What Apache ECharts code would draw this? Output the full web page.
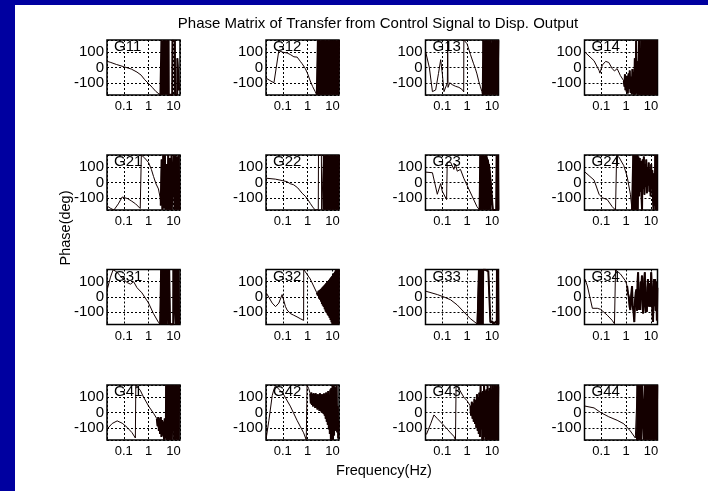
<!DOCTYPE html>
<html><head><meta charset="utf-8">
<script src="https://cdn.jsdelivr.net/npm/echarts@6/dist/echarts.min.js"></script>
<style>html,body{margin:0;padding:0;background:#fff;}#c{width:708px;height:491px;}</style>
</head><body><div id="c"></div><script>
// ---- text ----
const MAIN_TITLE = 'Phase Matrix of Transfer from Control Signal to Disp. Output';
const X_NAME = 'Frequency(Hz)';
const Y_NAME = 'Phase(deg)';
const NAMES = ['G11','G12','G13','G14','G21','G22','G23','G24','G31','G32','G33','G34','G41','G42','G43','G44'];
const X_TICKS = [0.1, 1, 10];
const Y_TICKS = [100, 0, -100];

// ---- data: [frequency Hz, phase deg] ----
const G11 = [[0.0215,40],[0.03,33],[0.05,20],[0.1,5],[0.2,-10],[0.34,-30],[0.5,-50],[0.7,-80],[1,-105],[1.4,-130],[2,-158],[2.6,-172],[3.0,-180],
 [3.2,-178],[3.3,178],[3.6,-178],[3.9,176],[4.3,-178],[4.7,178],[5.1,-176],[5.6,178],[6.1,-178],[6.4,176],[6.5,-178],[9.0,-178],[9.2,176],[11.5,172],[11.7,-178],[14.3,-176],[14.5,60],[16.3,-100],[17,-150]];
const G12 = [[0.0215,-70],[0.03,-85],[0.044,-100],[0.069,110],[0.08,105],[0.1,100],[0.12,92],[0.15,95],[0.2,85],[0.24,80],[0.28,70],[0.32,63],[0.38,68],[0.44,56],[0.51,40],[0.6,25],[0.81,-7],[1,-40],[1.28,-88],[1.6,-125],[2.03,-158],[2.36,-180],
 [2.6,178],[2.85,-178],[3.1,178],[3.4,-178],[3.7,178],[3.75,-178],[4.2,-178],[4.25,178],[4.3,-178],[4.7,-178],[4.75,178],[5.1,-178],[5.6,178],[6.1,-178],[6.6,178],[7.2,-178],[7.9,178],[8.6,-178],[9.4,178],[10.2,-178],[11.1,178],[12.1,-178],[13.2,178],[14.4,-178],[15.7,178],[17.1,-178],[18.5,178]];
const G13 = [[0.0215,100],[0.03,0],[0.04,-158],[0.054,-147],[0.07,-40],[0.086,51],[0.1,-40],[0.117,-158],[0.13,-150],[0.16,-100],[0.165,180],[0.17,-130],[0.2,-100],[0.25,-112],[0.29,-100],[0.34,-123],[0.4,-110],[0.47,-130],[0.54,-123],[0.65,-146],[0.73,-160],[0.74,180],[0.86,178],[1,155],[1.36,86],[1.8,28],[2.15,-7],[2.5,-42],[2.93,-88],[3.4,-123],[3.98,-158],[4.3,-180],
 [4.5,178],[4.9,-178],[5.3,178],[5.8,-178],[6.3,-178],[6.35,178],[6.9,-178],[7.5,178],[8.2,-178],[8.9,178],[9.7,-178],[10.8,-178],[10.85,178],[11.8,-178],[12.9,178],[14,-178],[15.3,178],[16.7,-178],[18.2,178]];
const G14 = [[0.022,100],[0.051,44],[0.081,-19],[0.088,-37],[0.11,16],[0.15,40],[0.2,33],[0.275,-7],[0.34,-23],[0.436,-7],[0.59,-53],[0.81,-88],
 [0.86,-125],[0.9,-45],[0.94,-148],[1.0,-65],[1.05,-158],[1.1,-55],[1.17,-170],[1.25,-40],[1.33,-140],[1.4,-20],[1.5,-165],[1.6,-60],[1.7,-175],[1.8,-10],[1.9,-170],[2.0,-30],[2.1,-178],[2.25,60],[2.4,-175],[2.55,175],[2.7,-170],[2.85,40],[3.0,-178],[3.2,-20],[3.35,178],[3.5,-178],[3.7,120],[3.9,-178],[4.1,178],[4.3,-178],[4.5,178],[4.7,-178],[4.95,178],[5.2,-178],[5.45,178],[5.7,-178],[6,178],[6.3,-178],[6.6,178],[6.9,-178],[7.3,178],[7.6,-178],[8,178],[8.4,-178],[8.8,178],[9.2,-178],[9.7,178],[10.2,-178],[10.7,178],[11.2,-178],[11.8,178],[12.4,-178],[13,178],[13.6,-178],[14.3,178],[15,-178],[15.7,178],[16.5,-178],[17.3,178]];
const G21 = [[0.0215,-155],[0.03,-170],[0.04,-180],[0.06,-140],[0.086,-95],[0.1,-97],[0.14,-105],[0.2,-120],[0.3,-140],[0.46,-170],[0.5,-178],[0.51,180],[0.6,175],[0.7,160],[1,130],[1.3,85],[1.58,40],[2,-10],[2.5,-42],[2.93,-100],[3.1,-150],
 [3.35,150],[3.6,-178],[3.9,178],[4.2,-170],[4.55,178],[4.9,-178],[5.3,120],[5.7,-178],[6.2,178],[6.7,-178],[7.2,160],[7.8,-178],[8.4,178],[8.6,-178],[10.3,-178],[10.4,178],[11.1,-178],[12,178],[13,-178],[14,170],[15.2,-178],[16.4,178],[17.5,-178]];
const G22 = [[0.0215,28],[0.05,22],[0.1,12],[0.15,5],[0.2,-8],[0.275,-15],[0.4,-35],[0.6,-70],[0.81,-90],[1.0,-110],[1.3,-138],[1.6,-160],[2.03,-180],
 [2.7,-178],[2.75,178],[3.6,178],[3.7,-178],[4.4,-178],[4.5,178],[4.9,-178],[5.3,178],[5.7,-178],[6.2,178],[6.7,-178],[7.2,178],[7.8,-178],[8.4,178],[9.1,-178],[9.8,178],[10.6,-178],[11.5,178],[12.4,-178],[13.4,178],[14.5,-178],[15.6,178],[16.9,-178],[18.3,178]];
const G23 = [[0.0215,68],[0.04,64],[0.063,-77],[0.086,-7],[0.1,-58],[0.149,-112],[0.158,133],[0.215,133],[0.293,86],[0.34,121],[0.4,74],[0.54,86],[0.736,28],[1,-19],[1.58,-88],[2.5,-158],[3.2,-180],
 [3.4,178],[3.7,-178],[4.0,178],[4.3,-178],[4.6,178],[5.0,-178],[5.4,178],[5.8,-178],[5.9,178],[6.7,140],[6.75,-178],[6.8,150],[7.4,110],[7.5,-178],[7.6,120],[8.6,40],[8.7,-178],[8.8,20],[10,-100],[11,-180],[15,-178],[15.5,178],[16.5,-178],[17.5,178],[18.3,-178]];
const G24 = [[0.022,68],[0.051,16],[0.081,-77],[0.11,-100],[0.174,-112],[0.275,-158],[0.375,-180],[0.41,-178],[0.415,178],[0.51,167],[0.81,110],[1.1,40],[1.49,-77],[1.74,-180],
 [1.9,-178],[1.95,178],[2.05,-178],[2.15,178],[2.3,-178],[2.45,178],[2.6,-178],[2.75,178],[2.95,-178],[3.15,170],[3.35,-90],[3.55,160],[3.75,-60],[4.0,140],[4.2,-100],[4.4,-178],[4.6,150],[4.9,-40],[5.2,170],[5.5,-80],[5.8,120],[6.1,-30],[6.5,150],[6.9,-70],[7.3,100],[7.7,-20],[8.2,130],[8.7,-60],[9.2,90],[9.7,-90],[10.3,120],[10.9,-40],[11.5,80],[12.2,-120],[12.8,-178],[13.5,60],[14.3,-150],[15,178],[15.7,-178],[16.5,178],[17.3,-178]];
const G31 = [[0.0215,50],[0.029,130],[0.037,178],[0.045,170],[0.055,160],[0.07,140],[0.1,114],[0.136,95],[0.185,84],[0.25,100],[0.34,61],[0.54,27],[1,-40],[1.58,-109],[2.5,-166],[2.93,-180],
 [3.1,-178],[3.2,178],[3.45,-178],[3.75,178],[4.05,-178],[4.4,178],[4.75,-178],[5.1,178],[5.15,-178],[5.8,-178],[5.85,178],[6.3,-178],[6.8,178],[7.3,-178],[9.9,-178],[10.0,178],[10.1,-178],[11.7,-178],[11.8,178],[12.7,-178],[13.7,178],[14.8,-178],[16,178],[17,-178]];
const G32 = [[0.0215,27],[0.0375,-40],[0.051,-63],[0.069,-40],[0.094,16],[0.11,16],[0.128,-63],[0.149,-85],[0.2,-108],[0.275,-119],[0.32,-112],[0.375,-130],[0.44,-125],[0.51,-142],[0.59,-136],[0.69,-153],[0.7,180],[0.81,178],[1.28,118],[2.36,27],
 [2.6,10],[2.75,40],[2.9,-10],[3.05,45],[3.2,-18],[3.35,50],[3.5,-30],[3.65,55],[3.8,-45],[3.95,62],[4.1,-55],[4.3,68],[4.5,-65],[4.7,75],[4.9,-80],[5.1,82],[5.35,-95],[5.6,90],[5.85,-105],[6.1,97],[6.4,-115],[6.7,105],[7.0,-125],[7.3,112],[7.65,-135],[8.0,120],[8.4,-150],[8.8,128],[9.2,-165],[9.6,135],[10.0,-178],[10.5,145],[11.0,-178],[11.5,155],[12.0,-178],[12.6,165],[13.2,-178],[13.8,175],[14.4,-178],[15.1,178],[15.8,-178],[16.5,170],[17.3,-178],[18.2,178]];
const G33 = [[0.0215,38],[0.063,16],[0.117,0],[0.215,-18],[0.4,-52],[0.736,-97],[1.36,-142],[2.5,-175],[2.67,-180],
 [2.93,-178],[3.0,178],[3.2,-178],[3.45,178],[3.7,-178],[4.0,178],[4.3,-178],[4.45,178],[5,172],[5.5,178],[6,170],[6.6,176],[7.2,168],[7.9,178],[8.5,165],[8.7,-165],[9.5,-175],[10.5,-160],[11.5,-175],[12.5,-165],[13.7,-175],[15,-160],[15.8,-178],[16,178],[16.8,-178],[17.6,178],[18.4,-178]];
const G34 = [[0.022,117],[0.0275,72],[0.0437,-74],[0.069,-74],[0.094,-81],[0.174,-119],[0.275,-153],[0.34,-175],[0.37,-178],[0.375,178],[0.45,165],[0.59,151],[0.94,106],[1.1,72],
 [1.2,20],[1.28,4],[1.38,-60],[1.49,-85],[1.6,10],[1.74,72],[1.85,-60],[2.0,-100],[2.15,-164],[2.3,-20],[2.45,30],[2.6,50],[2.75,-90],[2.9,100],[3.05,162],[3.2,40],[3.35,-85],[3.5,-20],[3.74,-85],[3.9,100],[4.1,60],[4.37,140],[4.6,-30],[4.85,-108],[5.1,-60],[5.4,120],[5.7,162],[5.94,20],[6.2,-97],[6.5,-40],[6.9,-97],[7.2,60],[7.6,117],[8.1,-20],[8.5,-63],[8.9,90],[9.4,-63],[9.8,30],[10.3,162],[11,60],[11.5,-100],[12.2,-164],[12.8,0],[13.5,117],[14.2,-60],[14.9,117],[15.6,-90],[16.4,100],[17.4,-153],[18.3,60]];
const G41 = [[0.0215,-107],[0.034,-72],[0.054,-55],[0.086,-70],[0.136,-97],[0.215,-132],[0.293,-167],[0.3,-178],[0.305,178],[0.34,175],[0.46,146],[0.63,100],[1,42],[1.58,-5],[2.15,-40],
 [2.3,-90],[2.45,-30],[2.6,-120],[2.75,-40],[2.9,-140],[3.1,-30],[3.3,-160],[3.5,-50],[3.7,-150],[3.95,-60],[4.2,-178],[4.45,-40],[4.7,-170],[5.0,-60],[5.1,178],[5.35,-178],[5.6,178],[5.9,-178],[6.2,178],[6.6,-178],[6.9,178],[7.3,-178],[7.7,178],[8.1,-178],[8.5,178],[8.6,-178],[10.0,-178],[10.1,178],[10.8,-178],[11.5,178],[12.1,-178],[13.6,-178],[13.7,178],[14.5,-178],[15.4,178],[16.3,-178],[17,178]];
const G42 = [[0.0215,-167],[0.0275,-51],[0.0375,112],[0.044,153],[0.051,175],[0.06,165],[0.103,123],[0.2,42],[0.375,-51],[0.69,-133],[0.885,-179],[0.94,-178],[0.95,178],[1.1,158],[1.28,123],
 [1.35,60],[1.42,130],[1.5,50],[1.58,120],[1.66,40],[1.75,125],[1.84,45],[1.93,118],[2.03,30],[2.13,125],[2.24,35],[2.36,115],[2.48,20],[2.6,120],[2.73,30],[2.87,110],[3.0,10],[3.15,125],[3.3,20],[3.47,105],[3.64,0],[3.82,120],[4.0,10],[4.2,110],[4.4,-10],[4.6,125],[4.85,-20],[5.1,100],[5.35,-40],[5.6,130],[5.9,-60],[6.2,120],[6.5,-80],[6.8,140],[7.2,-110],[7.5,100],[7.9,-140],[8.3,150],[8.7,-178],[9.1,160],[9.6,-178],[10.1,178],[10.6,-178],[11.1,178],[11.7,-150],[12.3,170],[12.9,-120],[13.5,60],[14.2,-90],[14.9,178],[15.6,-130],[16.4,40],[17.2,-170],[18,-60]];
const G43 = [[0.0228,-144],[0.034,-74],[0.046,-16],[0.063,-40],[0.1,-74],[0.158,-109],[0.215,-133],[0.293,-156],[0.34,-179],[0.35,-178],[0.36,178],[0.46,158],[0.736,100],[1,77],[1.36,42],
 [1.45,-20],[1.55,70],[1.65,-40],[1.75,60],[1.85,-60],[1.97,90],[2.1,-75],[2.2,80],[2.35,-100],[2.5,120],[2.65,-120],[2.8,100],[2.95,-140],[3.1,130],[3.3,-160],[3.5,178],[3.7,-110],[3.9,130],[4.1,-178],[4.35,140],[4.6,-178],[4.85,178],[5.1,-160],[5.4,140],[5.7,-178],[6.0,150],[6.35,-178],[6.7,178],[7.05,-178],[7.4,140],[7.8,-178],[8.2,160],[8.6,-178],[9.0,178],[9.5,-178],[10,150],[10.5,-178],[11,178],[11.6,-178],[12.2,160],[12.8,-178],[13.4,178],[14.1,-178],[14.8,170],[15.5,-178],[16.3,178],[17.1,-178],[18,170]];
const G44 = [[0.022,42],[0.051,30],[0.094,0],[0.2,-28],[0.436,-51],[0.81,-74],[1.49,-121],[2.36,-167],[2.75,-180],
 [2.8,-178],[2.85,178],[3.05,-178],[3.3,178],[3.55,-178],[3.8,178],[4.1,-178],[4.35,178],[5.1,178],[5.2,-178],[5.6,178],[6.0,-178],[6.5,178],[7.0,-178],[7.5,178],[8.1,-178],[8.7,178],[9.4,-178],[10.1,178],[10.9,-178],[11.7,178],[12.6,-178],[13.6,178],[14.6,-178],[15.7,178],[16.9,-178],[18,178]];
const SERIES_DATA = [G11,G12,G13,G14,G21,G22,G23,G24,G31,G32,G33,G34,G41,G42,G43,G44];
// frequency (Hz) above which each trace becomes a dense noisy band
const NOISY_FROM = [3.0,2.36,4.3,0.81,3.1,4.4,3.2,1.74,2.93,2.36,2.67,1.1,2.15,1.28,1.36,2.75];

// ---- layout / style ----
const COL_LEFT = [107, 266, 425.5, 584.5];
const ROW_TOP = [40, 155, 269.5, 385];
const BOX_W = 73, BOX_H = 55;
const X_MIN = 0.021, X_MAX = 18.5, Y_MIN = -180, Y_MAX = 180;
const FONT = "'Liberation Sans', Arial, Helvetica, sans-serif";
const LINE_COLOR = '#140000';

const chart = echarts.init(document.getElementById('c'), null, {renderer: 'canvas'});
const grids = [], xAxes = [], yAxes = [], series = [], titles = [];
NAMES.forEach((name, i) => {
  const left = COL_LEFT[i % 4], top = ROW_TOP[Math.floor(i / 4)];
  grids.push({left: left, top: top, width: BOX_W, height: BOX_H, show: true,
    borderColor: '#000', borderWidth: 1.5, backgroundColor: 'transparent', containLabel: false});
  xAxes.push({type: 'log', logBase: 10, gridIndex: i, min: X_MIN, max: X_MAX,
    axisLine: {show: false}, axisTick: {show: false}, minorTick: {show: false},
    splitLine: {show: true, lineStyle: {color: '#000', width: 1, type: [2, 2]}},
    axisLabel: {show: true, margin: 5, color: '#000', fontSize: 13, fontFamily: FONT,
      showMinLabel: false, showMaxLabel: false,
      formatter: v => { for (const t of X_TICKS) { if (Math.abs(Math.log10(v) - Math.log10(t)) < 0.01) return String(t); } return ''; }}});
  yAxes.push({type: 'value', gridIndex: i, min: Y_MIN, max: Y_MAX, splitNumber: 4,
    axisLine: {show: false}, axisTick: {show: false},
    splitLine: {show: true, lineStyle: {color: '#000', width: 1, type: [2, 2]}},
    axisLabel: {show: true, margin: 3, color: '#000', fontSize: 15, fontFamily: FONT,
      showMinLabel: false, showMaxLabel: false,
      formatter: v => { for (const t of Y_TICKS) { if (Math.abs(v - t) < 1e-6) return String(t); } return ''; }}});
  series.push({type: 'line', name: name, xAxisIndex: i, yAxisIndex: i, data: SERIES_DATA[i],
    showSymbol: false, symbol: 'none', clip: true, animation: false, z: 3,
    lineStyle: {color: LINE_COLOR, width: 1}});
  series.push({type: 'line', name: name + ' noisy', xAxisIndex: i, yAxisIndex: i,
    data: SERIES_DATA[i].filter(p => p[0] >= NOISY_FROM[i]),
    showSymbol: false, symbol: 'none', clip: true, animation: false, z: 3,
    lineStyle: {color: LINE_COLOR, width: 2}});
  titles.push({text: name, left: left + 7, top: top - 0.5, padding: 0, z: 10,
    textStyle: {fontSize: 15, fontWeight: 'normal', color: '#000', fontFamily: FONT}});
});

chart.setOption({
  animation: false,
  backgroundColor: '#fff',
  title: titles,
  grid: grids, xAxis: xAxes, yAxis: yAxes, series: series,
  graphic: [
    {type: 'rect', left: 0, top: 0, shape: {width: 15, height: 491}, style: {fill: '#0000a0'}, z: 100},
    {type: 'rect', left: 0, top: 0, shape: {width: 708, height: 5}, style: {fill: '#0000a0'}, z: 100},
    {type: 'text', x: 378, y: 23.5, style: {text: MAIN_TITLE, font: '15px ' + FONT, fill: '#000', textAlign: 'center', textVerticalAlign: 'middle', align: 'center', verticalAlign: 'middle'}},
    {type: 'text', x: 384, y: 471, style: {text: X_NAME, font: '14.5px ' + FONT, fill: '#000', textAlign: 'center', textVerticalAlign: 'middle', align: 'center', verticalAlign: 'middle'}},
    {type: 'text', x: 66, y: 228, rotation: Math.PI / 2, style: {text: Y_NAME, font: '14.5px ' + FONT, fill: '#000', textAlign: 'center', textVerticalAlign: 'middle', align: 'center', verticalAlign: 'middle'}}
  ]
});
</script></body></html>
